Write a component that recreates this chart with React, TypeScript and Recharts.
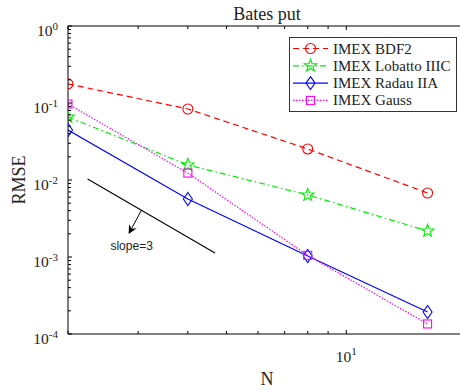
import {
  LineChart,
  Line,
  XAxis,
  YAxis,
  Legend,
  ReferenceLine,
} from "recharts";

// grid sizes N and RMSE per scheme
const nValues = [2, 4, 8, 16];
const bdf2 = [0.177, 0.0836, 0.0253, 0.00678];
const lobatto = [0.0658, 0.0157, 0.0064, 0.00218];
const radau = [0.0446, 0.00566, 0.00103, 0.000193];
const gauss = [0.097, 0.0123, 0.00105, 0.000135];

// slope=3 guide line and its arrow, in data units
const slopeLine = [
  { x: 2.24, y: 0.0103 },
  { x: 4.68, y: 0.00113 },
];
const slopeArrow = [
  { x: 3.06, y: 0.00407 },
  { x: 2.84, y: 0.00199 },
];

const xTicks = [2, 3, 4, 5, 6, 7, 8, 9, 10];
const yDecades = [1e-4, 1e-3, 1e-2, 1e-1, 1];
const yTicks = yDecades.flatMap((d, i) =>
  i === yDecades.length - 1 ? [d] : [1, 2, 3, 4, 5, 6, 7, 8, 9].map((m) => m * d)
);

const data = nValues.map((n, i) => ({
  n,
  bdf2: bdf2[i],
  lobatto: lobatto[i],
  radau: radau[i],
  gauss: gauss[i],
}));

const series = [
  { key: "bdf2", name: "IMEX BDF2", color: "#ff0000", dash: "6 4", shape: "circle" },
  { key: "lobatto", name: "IMEX Lobatto IIIC", color: "#00ee00", dash: "6 3 1.5 3", shape: "star" },
  { key: "radau", name: "IMEX Radau IIA", color: "#0000ff", dash: undefined, shape: "diamond" },
  { key: "gauss", name: "IMEX Gauss", color: "#ff00ff", dash: "1.5 1.5", shape: "square" },
];

const SERIF = "'Liberation Serif', 'Times New Roman', serif";
const SANS = "'Liberation Sans', Arial, sans-serif";

const isDecade = (v: number) =>
  Math.abs(Math.log10(v) - Math.round(Math.log10(v))) < 1e-9;

const Marker = ({ shape, cx, cy, color }: any) => {
  if (cx == null || cy == null) return null;
  const common = { fill: "none", stroke: color, strokeWidth: 1.1 };
  if (shape === "circle") return <circle cx={cx} cy={cy} r={5} {...common} />;
  if (shape === "square")
    return <rect x={cx - 4} y={cy - 4} width={8} height={8} {...common} />;
  if (shape === "diamond")
    return (
      <polygon
        points={`${cx},${cy - 6.5} ${cx + 4.5},${cy} ${cx},${cy + 6.5} ${cx - 4.5},${cy}`}
        {...common}
      />
    );
  const pts: string[] = [];
  for (let i = 0; i < 10; i++) {
    const r = i % 2 === 0 ? 6.5 : 2.7;
    const a = -Math.PI / 2 + (i * Math.PI) / 5;
    pts.push(`${cx + r * Math.cos(a)},${cy + r * Math.sin(a)}`);
  }
  return <polygon points={pts.join(" ")} {...common} />;
};

const YTick = ({ x, y, payload }: any) => {
  const v = payload.value;
  const major = isDecade(v);
  return (
    <g>
      <line x1={x} x2={x + (major ? 4 : 3)} y1={y} y2={y} stroke="#000" />
      {major && (
        <text x={x - 10} y={y + 10} textAnchor="end" fontFamily={SERIF} fontSize={15.5} fill="#222">
          10
          <tspan dy={-6} fontSize={11}>
            {Math.round(Math.log10(v))}
          </tspan>
        </text>
      )}
    </g>
  );
};

const XTick = ({ x, y, payload }: any) => {
  const v = payload.value;
  const major = isDecade(v);
  return (
    <g>
      <line x1={x} x2={x} y1={y} y2={y - (major ? 4 : 3)} stroke="#000" />
      {major && (
        <text x={x} y={y + 28} textAnchor="middle" fontFamily={SERIF} fontSize={15.5} fill="#222">
          10
          <tspan dy={-7} fontSize={11}>
            {Math.round(Math.log10(v))}
          </tspan>
        </text>
      )}
    </g>
  );
};

const TopTick = ({ x, y, payload }: any) => (
  <line x1={x} x2={x} y1={y} y2={y + (isDecade(payload.value) ? 4 : 3)} stroke="#000" />
);

const LegendBox = () => (
  <svg width={170} height={76}>
    <rect x={0.5} y={0.5} width={167} height={74} fill="#fff" stroke="#333" />
    {series.map((s, i) => {
      const cy = 11.5 + i * 17.3;
      return (
        <g key={s.key}>
          <line x1={4} x2={39} y1={cy} y2={cy} stroke={s.color} strokeWidth={1.2} strokeDasharray={s.dash} />
          <Marker shape={s.shape} cx={21.5} cy={cy} color={s.color} />
          <text x={44} y={cy + 5} fontFamily={SERIF} fontSize={15} fill="#222">
            {s.name}
          </text>
        </g>
      );
    })}
  </svg>
);

const ArrowShape = (props: any) => {
  const { x1, y1, x2, y2 } = props;
  const ang = Math.atan2(y2 - y1, x2 - x1);
  const L = 10;
  const W = 0.45;
  const p1 = `${x2 - L * Math.cos(ang - W)},${y2 - L * Math.sin(ang - W)}`;
  const p2 = `${x2 - L * Math.cos(ang + W)},${y2 - L * Math.sin(ang + W)}`;
  const mx = x2 - 0.6 * L * Math.cos(ang);
  const my = y2 - 0.6 * L * Math.sin(ang);
  return (
    <g>
      <line x1={x1} y1={y1} x2={mx} y2={my} stroke="#000" />
      <polygon points={`${x2},${y2} ${p1} ${mx},${my} ${p2}`} fill="#000" />
      <text x={x2 + 3} y={y2 + 16} textAnchor="middle" fontFamily={SANS} fontSize={12} fill="#222">
        slope=3
      </text>
    </g>
  );
};

export default function App() {
  return (
    <div style={{ position: "absolute", left: 0, top: 0, width: 460, height: 390, background: "#fff" }}>
      <LineChart width={460} height={390} data={data} margin={{ top: 0, right: 0, bottom: 0, left: 0 }}>
        <XAxis
          dataKey="n"
          type="number"
          scale="log"
          domain={[2, 19.3]}
          allowDataOverflow
          ticks={xTicks}
          interval={0}
          height={56}
          tickSize={0}
          tickMargin={0}
          tickLine={false}
          axisLine={{ stroke: "#000" }}
          tick={<XTick />}
          label={{
            content: () => (
              <text x={267} y={385} textAnchor="middle" fontFamily={SERIF} fontSize={18} fill="#222">
                N
              </text>
            ),
          }}
        />
        <XAxis
          xAxisId="top"
          orientation="top"
          dataKey="n"
          type="number"
          scale="log"
          domain={[2, 19.3]}
          allowDataOverflow
          ticks={xTicks}
          interval={0}
          height={26}
          tickSize={0}
          tickMargin={0}
          tickLine={false}
          axisLine={{ stroke: "#000" }}
          tick={<TopTick />}
          label={{
            content: () => (
              <text x={267} y={20} textAnchor="middle" fontFamily={SERIF} fontSize={18} fill="#222">
                Bates put
              </text>
            ),
          }}
        />
        <YAxis
          type="number"
          scale="log"
          domain={[1e-4, 1]}
          allowDataOverflow
          ticks={yTicks}
          interval={0}
          width={68}
          tickSize={0}
          tickMargin={0}
          tickLine={false}
          axisLine={{ stroke: "#000" }}
          tick={<YTick />}
          label={{
            content: () => (
              <text
                x={25}
                y={180}
                transform="rotate(-90, 25, 180)"
                textAnchor="middle"
                fontFamily={SERIF}
                fontSize={18}
                fill="#222"
              >
                RMSE
              </text>
            ),
          }}
        />
        <ReferenceLine
          segment={slopeLine}
          stroke="#000"
          strokeWidth={1.1}
          ifOverflow="visible"
        />
        <ReferenceLine
          segment={slopeArrow}
          ifOverflow="visible"
          shape={<ArrowShape />}
        />
        {series.map((s) => (
          <Line
            key={s.key}
            type="linear"
            dataKey={s.key}
            name={s.name}
            stroke={s.color}
            strokeWidth={1.2}
            strokeDasharray={s.dash}
            isAnimationActive={false}
            activeDot={false}
            dot={(p: any) => <Marker key={`${s.key}-${p.index}`} shape={s.shape} cx={p.cx} cy={p.cy} color={s.color} />}
          />
        ))}
        <Legend
          layout="horizontal"
          verticalAlign="middle"
          align="center"
          content={<LegendBox />}
          wrapperStyle={{ left: 289, top: 37, width: 170, height: 76 }}
        />
      </LineChart>
    </div>
  );
}
